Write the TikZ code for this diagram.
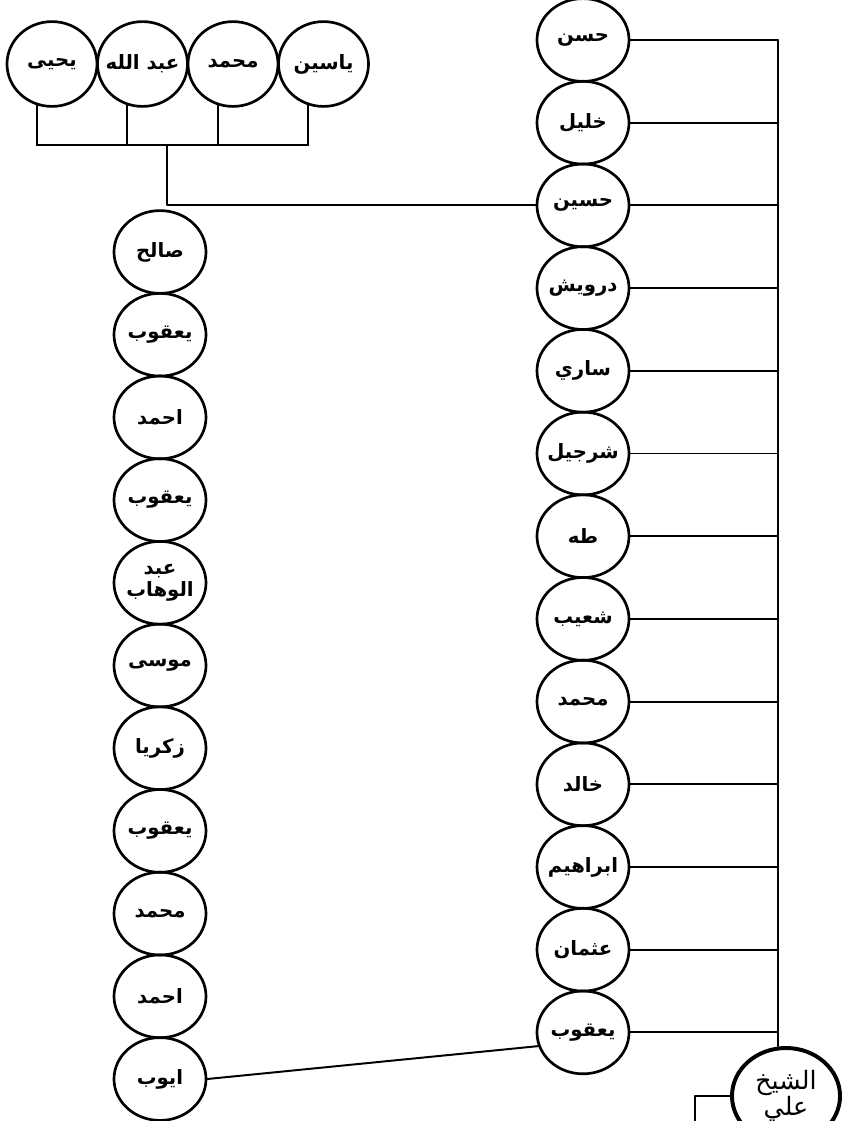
\documentclass[tikz,border=0pt]{standalone}
\usepackage{fontspec}
\newfontfamily\arabicfont[Script=Arabic]{DejaVu Sans}
\TeXXeTstate=1
\usetikzlibrary{shapes.geometric}
\newcommand{\rl}[1]{\makebox[0pt]{\beginR #1\endR}}
\tikzset{
  every picture/.style={line join=round, line cap=round},
  person/.style={ellipse, draw, line width=1.9pt, minimum width=2.3cm, minimum height=2.07cm, inner sep=0pt, font=\arabicfont\bfseries\fontsize{14}{16}\selectfont},
  elder/.style={person, line width=2.8pt, minimum width=2.7cm, minimum height=2.4cm, font=\arabicfont\fontsize{18}{19}\selectfont},
  link/.style={line width=1.4pt},
}
\begin{document}
\begin{tikzpicture}[x=0.025cm,y=-0.025cm]
\useasboundingbox (0,0) rectangle (842,1121);
\clip (0,0) rectangle (842,1121);
\foreach \nm [count=\i] in {يحيى,عبد الله,محمد,ياسين}
  \node[person, minimum height=2.12cm, minimum width=2.25cm] (t\i) at ({52+90.5*(\i-1)},64) {\rl{\nm}};
\foreach \nm [count=\i] in {حسن,خليل,حسين,درويش,ساري,شرجيل,طه,شعيب,محمد,خالد,ابراهيم,عثمان,يعقوب}
  \node[person] (r\i) at (583,{40+82.7*(\i-1)}) {\rl{\nm}};
\foreach \nm [count=\i] in {صالح,يعقوب,احمد,يعقوب,\shortstack{\rl{عبد}\\\rl{الوهاب}},موسى,زكريا,يعقوب,محمد,احمد,ايوب}
  \node[person] (l\i) at (160,{252+82.7*(\i-1)}) {\rl{\nm}};
\node[elder, align=center] (sheikh) at (786,1096) {\rl{الشيخ}\\\rl{علي}};
\coordinate (spine) at (778,40);
\foreach \i in {1,...,13}
  \draw[link] (r\i.east) -- (r\i.east -| spine);
\draw[link] (spine) -- (spine |- sheikh.north);
\coordinate (heir) at (695,1130);
\draw[link] (sheikh.west) -| (heir);
\coordinate (bar) at (167,145);
\foreach \i in {1,...,4}
  \draw[link] (t\i.250) -- (t\i.250 |- bar);
\draw[link] (t1.250 |- bar) -- (t4.250 |- bar);
\draw[link] (bar) |- (r3.west);
\draw[link] (l11.east) -- (r13.197);
\end{tikzpicture}
\end{document}
